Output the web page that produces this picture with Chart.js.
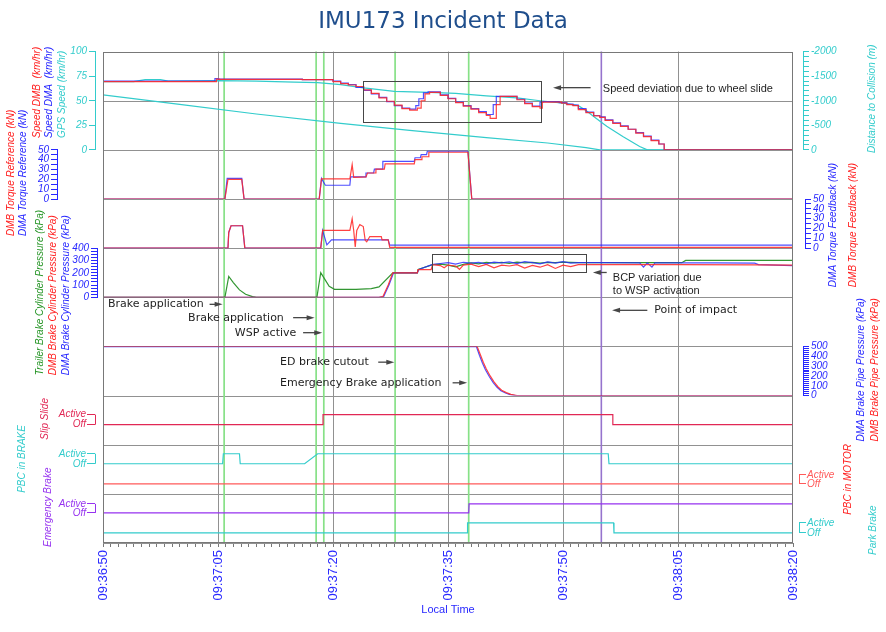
<!DOCTYPE html>
<html>
<head>
<meta charset="utf-8">
<script src="https://cdn.jsdelivr.net/npm/chart.js@4.4.1/dist/chart.umd.min.js"></script>
<style>
html,body{margin:0;padding:0;background:#fff;}
#wrap{width:886px;height:632px;}
</style>
</head>
<body>
<div id="wrap"><canvas id="c" width="886" height="632"></canvas></div>
<script>
// ---------------- DATA (time in seconds after 09:36:50) ----------------
const timeTicks = ['09:36:50','09:37:05','09:37:20','09:37:35','09:37:50','09:38:05','09:38:20'];
const tickStep = 15;

// Speed (km/hr)
const speedDmbT = [0,14.8,15.2,26,30,31,32,33,34,35,36,37,38,39,40,41,41.5,42,42.6,43,44,45,46,47,48,49,50,50.5,50.8,51.3,51.8,52.2,54,55,56,57,57.3,57.5,59.8,60.5,61.3,62,63,64,64.8,65.5,66.5,67.5,68.5,69.5,70.5,71.5,72.5,73.2,73.6,90];
const speedDmbV = [69.5,69.5,72,71.8,71.5,69.5,67.5,66,64.5,61,57.5,53,49.5,45.5,42,40.5,42.5,50,57,58.5,58.5,55.5,52,48,44.5,41.5,38,35,32,32,46,54.5,54.5,51,47,44,42.5,48.6,48.6,47.5,46,45,41,38,34.5,33,30,27,24,21,17,13.5,9.5,6,0,0];
const speedDmaT = [0,14.6,15.0,26,30,31,32,33,34,35,36,37,38,39,40,40.8,41.2,41.8,42.4,44,45,46,47,48,49,50,50.5,50.9,51.3,51.8,54,55,56,57,57.4,59.5,60.5,61.3,62,63,64,64.8,65.5,66.5,67.5,68.5,69.5,70.5,71.5,72.5,73.2,73.5,90];
const speedDmaV = [70,70,72.5,72,71.5,70,68,66.5,63.5,60.5,57,53.5,49,45,42.5,41.5,45,52,58,59,56,52.5,48.5,45,42,39,36,36,46,54.5,54.5,51.5,47.5,44.5,48.5,49,48,46.5,45.5,42,38.5,35,33.5,30.5,27.5,24.5,21,17.5,14,10,6,0,0];
const gpsT = [0,4,5.5,7.5,8.5,15,20,25,28,31,34,38,42.6,46,50,54,57,60,62,63,64,65.7,67.8,70,71,90];
const gpsV = [69.5,69.5,71.5,71.5,70,70.5,70,69,68.5,66.3,63,59.5,58.5,57.5,55,53,50,47.5,45,40,34,24,13.6,3.4,0,0];
// Distance to collision (m)
const distT = [0,10,20,31,40,50,58,63,64.8,90];
const distV = [-1120,-925,-730,-540,-395,-250,-140,-45,0,0];
// Torque reference (kN)
const tqRefDmbT = [0,15.9,16.3,18.1,18.4,28.2,28.5,32.2,32.5,32.7,34.3,34.5,35.5,35.6,36.7,36.8,40.6,40.7,41.5,41.6,42.4,42.5,47.6,48.1,90];
const tqRefDmbV = [0,0,20,20,0,0,20.5,20.5,35,22,22.5,26.5,26.5,30.5,30.5,35.7,35.7,40,40,43,43,47.6,47.6,0,0];
const tqRefDmaT = [0,15.9,16.2,18.1,18.4,28.2,28.5,29.0,32.2,32.3,34.2,34.3,35.3,35.4,36.4,36.5,40.6,40.7,41.4,41.5,42.2,42.3,47.6,48.1,90];
const tqRefDmaV = [0,0,21,21,0,0,21,14,14,22.5,22.5,26.5,26.5,30.5,30.5,38.4,38.4,42,42,45.2,45.2,48.6,48.6,0,0];
// Torque feedback (kN)
const tqFbDmbT = [0,16.3,16.4,16.7,18.2,18.5,28.4,28.65,32.2,32.5,32.7,32.9,33.1,33.5,33.95,34.2,34.4,34.8,36.3,36.4,37.2,37.4,90];
const tqFbDmbV = [0,0,16,22.8,22.8,0,0,18,18,29.9,18,1.3,18,24,22,8,6.4,11.8,11.8,8.5,8.5,0.8,0.8];
const tqFbDmaT = [0,16.3,16.4,16.7,18.2,18.5,28.4,28.65,29.2,29.8,37.2,37.4,90];
const tqFbDmaV = [0,0,16,22.8,22.8,0,0,18,3.4,8.5,8.5,3,3];
// Brake cylinder pressure (kPa)
const bcpDmbT = [0,36,36.5,37.2,37.8,41,41.1,42.8,43,44,44.5,45,46,46.5,47,48,49,50,51,52,53,54,55,56,57,58,59,60,61,62,70,75,85,90];
const bcpDmbV = [0,0,5,100,199,199,226,226,266,258,240,262,255,228,262,270,250,268,240,262,255,265,238,260,245,265,235,262,250,266,266,266,264,262];
const bcpDmaT = [0,36,36.6,37.3,37.9,41,41.2,42.9,44,45,46,47,48,49,50,51,52,53,54,55,56,57,58,59,60,61,62,65,70,70.5,71,71.6,72,75,80,85,85.5,90];
const bcpDmaV = [0,0,5,100,199,199,226,266,275,282,270,285,278,285,272,286,280,288,275,290,282,272,288,279,290,278,282,282,280,245,280,245,280,280,280,278,266,258];
const bcpTrT = [0,15.9,16.4,17,17.8,18.6,19.5,20,27.9,28.4,28.9,29.5,30.2,33,35,36,37.8,41,41.1,43,44,45,46,47,48,49,50,51,52,53,54,55,56,57,58,59,60,62,70,75.5,76,90];
const bcpTrV = [0,0,170,120,60,25,5,0,0,200,150,90,65,65,70,85,199,199,226,266,270,262,248,268,280,272,285,278,284,276,286,280,285,278,284,283,286,282,282,282,300,300];
// Brake pipe pressure (kPa)
const bppDmbT = [0,48.8,49.2,49.6,50.0,50.5,51.0,51.5,52.0,52.6,53.2,54.0,90];
const bppDmbV = [500,500,420,340,270,200,140,90,55,30,12,0,0];
const bppDmaT = [0,48.7,49.1,49.5,49.9,50.4,50.9,51.4,51.9,52.5,53.1,53.8,90];
const bppDmaV = [498,498,410,330,260,192,132,84,50,26,10,0,0];
// Digital signals (0 = Off, 1 = Active)
const slipT = [0,28.7,28.7,66.5,66.5,90];
const slipV = [0,0,1,1,0,0];
const pbcBrakeT = [0,15.6,15.7,17.8,17.9,26.3,28.0,65.9,66.0,90];
const pbcBrakeV = [0,0,1,1,0,0,1,1,0,0];
const pbcMotorT = [0,90];
const pbcMotorV = [0,0];
const emergT = [0,47.7,47.75,90];
const emergV = [0,0,1,1];
const parkT = [0,47.5,47.55,66.6,66.65,90];
const parkV = [0,0,1,1,0,0];
// Event markers
const brakeEvents = [15.8,27.8,28.8,38.1,47.7];
const impactEvents = [65.0];

// ---------------- STYLE ----------------
const RED = 'rgba(255,40,40,0.88)';
const BLUE = 'rgba(40,40,255,0.82)';
const CYAN = 'rgb(51,204,204)';
const GREEN = 'rgb(50,150,50)';
const CRIMSON = 'rgb(225,40,85)';
const PURPLE = 'rgb(150,50,240)';
const MOTOR_RED = 'rgb(255,90,90)';
const T_RED = 'rgb(255,30,30)';
const T_BLUE = 'rgb(40,40,255)';
const T_GREEN = 'rgb(40,150,40)';
const GRID = 'rgb(145,145,145)';
const EVT_GREEN = 'rgb(135,225,135)';
const EVT_PURPLE = 'rgb(150,115,205)';
const ANN = 'rgb(70,70,70)';
const LEFT_W = 103, RIGHT_W = 93, X_H = 89;
const TICK_FONT = {family: 'Liberation Sans', size: 10, style: 'italic'};
const TITLE_FONT = 'italic 10px "Liberation Sans"';

function pts(t, v) { return t.map((x, i) => ({x: x, y: v[i]})); }

const seriesDefs = [
  {t: speedDmbT, v: speedDmbV, axis: 'ySpeed', color: RED, stepped: 'after'},
  {t: speedDmaT, v: speedDmaV, axis: 'ySpeed', color: BLUE, stepped: 'after'},
  {t: gpsT, v: gpsV, axis: 'ySpeed', color: CYAN},
  {t: distT, v: distV, axis: 'yDist', color: CYAN},
  {t: tqRefDmbT, v: tqRefDmbV, axis: 'yTqRef', color: RED},
  {t: tqRefDmaT, v: tqRefDmaV, axis: 'yTqRef', color: BLUE},
  {t: tqFbDmbT, v: tqFbDmbV, axis: 'yTqFb', color: RED},
  {t: tqFbDmaT, v: tqFbDmaV, axis: 'yTqFb', color: BLUE},
  {t: bcpDmbT, v: bcpDmbV, axis: 'yBcp', color: RED},
  {t: bcpDmaT, v: bcpDmaV, axis: 'yBcp', color: BLUE},
  {t: bcpTrT, v: bcpTrV, axis: 'yBcp', color: GREEN},
  {t: bppDmbT, v: bppDmbV, axis: 'yBpp', color: RED},
  {t: bppDmaT, v: bppDmaV, axis: 'yBpp', color: BLUE},
  {t: slipT, v: slipV, axis: 'ySlip', color: CRIMSON},
  {t: pbcBrakeT, v: pbcBrakeV, axis: 'yPbcB', color: CYAN},
  {t: pbcMotorT, v: pbcMotorV, axis: 'yPbcM', color: MOTOR_RED},
  {t: emergT, v: emergV, axis: 'yEmerg', color: PURPLE},
  {t: parkT, v: parkV, axis: 'yPark', color: CYAN}
];

// ---------------- AXES ----------------
const leftOrder = ['ySpeed','yTqRef','yF1','yBcp','yF2','yF3','ySlip','yPbcB','yEmerg'];
const rightOrder = ['yDist','yR1','yTqFb','yR2','yR3','yBpp','yR4','yPbcM','yPark'];
const axisSpec = {
  ySpeed: {kind: 'num', w: 2, min: 0, max: 100, step: 25, major: 25, color: CYAN, dx: -8},
  yTqRef: {kind: 'num', w: 1, min: 0, max: 50, step: 5, major: 10, color: T_BLUE, dx: -46},
  yF1: {kind: 'fill'},
  yBcp: {kind: 'num', w: 1, min: 0, max: 400, step: 25, major: 100, color: T_BLUE, dx: -6},
  yF2: {kind: 'fill'},
  yF3: {kind: 'fill'},
  ySlip: {kind: 'dig', min: -2, max: 2.9, color: CRIMSON, dx: -8},
  yPbcB: {kind: 'dig', min: -3, max: 1.9, color: CYAN, dx: -8},
  yEmerg: {kind: 'dig', min: -3.33, max: 2.11, color: PURPLE, dx: -8},
  yDist: {kind: 'num', w: 2, min: -2000, max: 0, step: 100, major: 500, reverse: true, color: CYAN, dx: 10},
  yR1: {kind: 'fill'},
  yTqFb: {kind: 'num', w: 1, min: 0, max: 50, step: 5, major: 10, color: T_BLUE, dx: 12},
  yR2: {kind: 'fill'},
  yR3: {kind: 'fill'},
  yBpp: {kind: 'num', w: 1, min: 0, max: 500, step: 20, major: 100, color: T_BLUE, dx: 10},
  yR4: {kind: 'fill'},
  yPbcM: {kind: 'dig', min: -1.11, max: 4.33, color: MOTOR_RED, dx: 6},
  yPark: {kind: 'dig', min: -1, max: 3.9, color: CYAN, dx: 6}
};

function shiftDraw(s, dx) {
  if (s._shiftInstalled || !dx) return;
  s._shiftInstalled = true;
  s.draw = function (area) {
    const c = this.ctx;
    c.save();
    c.translate(dx, 0);
    Object.getPrototypeOf(this).draw.call(this, area);
    c.restore();
  };
}

function buildAxis(id, side, weight) {
  const sp = axisSpec[id];
  const base = {
    type: 'linear',
    position: side === 'L' ? 'left' : 'right',
    stack: side,
    stackWeight: sp.w || 1,
    weight: weight,
    afterFit: (s) => { s.width = side === 'L' ? LEFT_W : RIGHT_W; shiftDraw(s, sp.dx); }
  };
  if (sp.kind === 'fill') {
    return Object.assign(base, {display: false, min: 0, max: 100});
  }
  const tickLen = sp.kind === 'dig' ? (side === 'L' ? 8 : 7) : 6;
  Object.assign(base, {
    min: sp.min, max: sp.max, reverse: !!sp.reverse,
    grid: {display: true, drawOnChartArea: false, drawTicks: true, tickLength: tickLen, tickColor: sp.color, tickWidth: 1},
    border: {display: sp.kind !== 'dig', color: sp.color, width: 1}
  });
  if (sp.kind === 'dig') {
    base.afterBuildTicks = (s) => { s.ticks = [{value: 0}, {value: 1}]; };
    base.ticks = {autoSkip: false, color: sp.color, font: TICK_FONT, padding: 1,
      callback: (v) => (v === 1 ? 'Active' : 'Off')};
  } else {
    base.ticks = {stepSize: sp.step, autoSkip: false, color: sp.color, font: TICK_FONT, padding: 2,
      callback: (v) => (Math.abs(v % sp.major) < 1e-9 ? String(v) : '')};
  }
  return base;
}

const scales = {
  x: {
    type: 'linear', position: 'bottom', min: 0, max: 90,
    afterFit: (s) => { s.height = X_H; },
    ticks: {stepSize: 1, autoSkip: false, maxRotation: 90, minRotation: 90, color: T_BLUE,
      font: {family: 'Liberation Sans', size: 13}, padding: 3,
      callback: (v) => (v % tickStep === 0 ? timeTicks[v / tickStep] : '')},
    grid: {
      color: (c) => (c.tick && c.tick.value % tickStep === 0 && c.tick.value > 0 && c.tick.value < 90 ? GRID : 'rgba(0,0,0,0)'),
      tickColor: 'rgb(120,120,120)', tickLength: 4, lineWidth: 1
    },
    border: {display: false},
    title: {display: true, text: 'Local Time', color: T_BLUE, font: {family: 'Liberation Sans', size: 11}, padding: {top: 0, bottom: 15}}
  }
};
leftOrder.forEach((id, i) => { scales[id] = buildAxis(id, 'L', leftOrder.length - i); });
rightOrder.forEach((id, i) => { scales[id] = buildAxis(id, 'R', i + 1); });

// ---------------- ANNOTATIONS / TITLES ----------------
const axisTitles = [
  {axis: 'ySpeed', x: 37, off: 12, text: 'Speed DMB  (km/hr)', color: T_RED},
  {axis: 'ySpeed', x: 49, off: 12, text: 'Speed DMA  (km/hr)', color: T_BLUE},
  {axis: 'ySpeed', x: 62, off: 12, text: 'GPS Speed (km/hr)', color: CYAN},
  {axis: 'yTqRef', x: 11, off: -37, text: 'DMB Torque Reference (kN)', color: T_RED},
  {axis: 'yTqRef', x: 23, off: -37, text: 'DMA Torque Reference (kN)', color: T_BLUE},
  {axis: 'yBcp', x: 40, off: -78, text: 'Trailer Brake Cylinder Pressure (kPa)', color: T_GREEN},
  {axis: 'yBcp', x: 53, off: -78, text: 'DMB Brake Cylinder Pressure (kPa)', color: T_RED},
  {axis: 'yBcp', x: 66, off: -78, text: 'DMA Brake Cylinder Pressure (kPa)', color: T_BLUE},
  {axis: 'ySlip', x: 45, off: 5, text: 'Slip Slide', color: CRIMSON},
  {axis: 'yPbcB', x: 22, off: 1, text: 'PBC in BRAKE', color: CYAN},
  {axis: 'yEmerg', x: 48, off: -4, text: 'Emergency Brake', color: PURPLE},
  {axis: 'yDist', x: 872, off: -3, text: 'Distance to Collision (m)', color: CYAN},
  {axis: 'yTqFb', x: 833, off: -39, text: 'DMA Torque Feedback (kN)', color: T_BLUE},
  {axis: 'yTqFb', x: 853, off: -39, text: 'DMB Torque Feedback (kN)', color: T_RED},
  {axis: 'yBpp', x: 861, off: -46, text: 'DMA Brake Pipe Pressure (kPa)', color: T_BLUE},
  {axis: 'yBpp', x: 875, off: -46, text: 'DMB Brake Pipe Pressure (kPa)', color: T_RED},
  {axis: 'yPbcM', x: 848, off: -21, text: 'PBC in MOTOR', color: T_RED},
  {axis: 'yPark', x: 873, off: -12, text: 'Park Brake', color: CYAN}
];
const annBoxes = [
  {axis: 'ySpeed', t0: 33.9, t1: 57.1, v0: 28.6, v1: 70.4},
  {axis: 'yBcp', t0: 42.9, t1: 63.0, v0: 202, v1: 355}
];
const annArrows = [
  {axis: 'ySpeed', v: 63.3, from: 63.6, to: 58.7},
  {axis: 'yBcp', v: 202, from: 65.7, to: 63.9},
  {axis: 'yF2', v: 73.5, from: 71.0, to: 66.4},
  {axis: 'yF2', v: 85.7, from: 13.9, to: 15.6},
  {axis: 'yF2', v: 58.6, from: 24.8, to: 27.6},
  {axis: 'yF2', v: 28, from: 26.1, to: 28.6},
  {axis: 'yF3', v: 68, from: 35.9, to: 38.0},
  {axis: 'yF3', v: 26, from: 45.6, to: 47.5}
];
const SANS = '11px "Liberation Sans"';
const VERD = '11px "DejaVu Sans"';
const annTexts = [
  {axis: 'ySpeed', v: 62, t: 65.2, text: 'Speed deviation due to wheel slide', font: SANS},
  {axis: 'yBcp', v: 161, t: 66.5, text: 'BCP variation due', font: SANS},
  {axis: 'yBcp', v: 48, t: 66.5, text: 'to WSP activation', font: SANS},
  {axis: 'yF2', v: 73.5, t: 71.9, text: 'Point of impact', font: VERD},
  {axis: 'yF2', v: 85.7, t: 0.65, text: 'Brake application', font: VERD},
  {axis: 'yF2', v: 58.6, t: 11.1, text: 'Brake application', font: VERD},
  {axis: 'yF2', v: 28, t: 17.2, text: 'WSP active', font: VERD},
  {axis: 'yF3', v: 68, t: 23.1, text: 'ED brake cutout', font: VERD},
  {axis: 'yF3', v: 26, t: 23.1, text: 'Emergency Brake application', font: VERD}
];
const digitalAxes = ['ySlip','yPbcB','yEmerg','yPbcM','yPark'];

const overlay = {
  id: 'overlay',
  beforeDraw(chart) {
    const {ctx, width, height} = chart;
    ctx.save(); ctx.fillStyle = '#fff'; ctx.fillRect(0, 0, width, height); ctx.restore();
  },
  beforeDatasetsDraw(chart) {
    const {ctx, chartArea: a, scales: S} = chart;
    ctx.save();
    ctx.strokeStyle = GRID; ctx.lineWidth = 1;
    const ys = [];
    leftOrder.forEach((id) => { ys.push(S[id].top, S[id].bottom); });
    ys.push(S.ySpeed.getPixelForValue(50));
    ctx.beginPath();
    ys.forEach((y) => { const yy = Math.round(y) + 0.5; ctx.moveTo(a.left, yy); ctx.lineTo(a.right, yy); });
    ctx.stroke();
    const vline = (t, color, w) => {
      const x = S.x.getPixelForValue(t);
      ctx.strokeStyle = color; ctx.lineWidth = w;
      ctx.beginPath(); ctx.moveTo(x, a.top); ctx.lineTo(x, a.bottom); ctx.stroke();
    };
    brakeEvents.forEach((t) => vline(t, EVT_GREEN, 1.7));
    impactEvents.forEach((t) => vline(t, EVT_PURPLE, 1.6));
    ctx.restore();
  },
  afterDatasetsDraw(chart) {
    const {ctx, scales: S} = chart;
    const X = (t) => S.x.getPixelForValue(t);
    ctx.save();
    ctx.strokeStyle = ANN; ctx.fillStyle = ANN; ctx.lineWidth = 1;
    annBoxes.forEach((b) => {
      const x0 = Math.round(X(b.t0)) + 0.5, x1 = Math.round(X(b.t1)) + 0.5;
      const y0 = Math.round(S[b.axis].getPixelForValue(b.v0)) + 0.5, y1 = Math.round(S[b.axis].getPixelForValue(b.v1)) + 0.5;
      ctx.strokeRect(Math.min(x0, x1), Math.min(y0, y1), Math.abs(x1 - x0), Math.abs(y1 - y0));
    });
    ctx.lineWidth = 1.3;
    annArrows.forEach((r) => {
      const y = S[r.axis].getPixelForValue(r.v);
      const xa = X(r.from), xb = X(r.to);
      const dir = xb > xa ? 1 : -1;
      ctx.beginPath(); ctx.moveTo(xa, y); ctx.lineTo(xb - dir * 6, y); ctx.stroke();
      ctx.beginPath(); ctx.moveTo(xb, y); ctx.lineTo(xb - dir * 8, y - 2.5); ctx.lineTo(xb - dir * 8, y + 2.5); ctx.closePath(); ctx.fill();
    });
    ctx.fillStyle = 'rgb(30,30,30)';
    ctx.textAlign = 'left'; ctx.textBaseline = 'middle';
    annTexts.forEach((tx) => {
      ctx.font = tx.font;
      ctx.fillText(tx.text, X(tx.t), S[tx.axis].getPixelForValue(tx.v));
    });
    ctx.restore();
  },
  afterDraw(chart) {
    const {ctx, chartArea: a, scales: S} = chart;
    ctx.save();
    ctx.font = TITLE_FONT; ctx.textAlign = 'left'; ctx.textBaseline = 'middle';
    axisTitles.forEach((t) => {
      const y = S[t.axis].bottom - t.off;
      ctx.save(); ctx.translate(t.x, y); ctx.rotate(-Math.PI / 2);
      ctx.fillStyle = t.color; ctx.fillText(t.text, 0, 0); ctx.restore();
    });
    ctx.lineWidth = 1;
    digitalAxes.forEach((id) => {
      const s = S[id], sp = axisSpec[id];
      const x = Math.round((s.position === 'left' ? s.right : s.left) + sp.dx) + 0.5;
      ctx.strokeStyle = sp.color;
      ctx.beginPath(); ctx.moveTo(x, s.getPixelForValue(1)); ctx.lineTo(x, s.getPixelForValue(0)); ctx.stroke();
    });
    ctx.strokeStyle = 'rgb(120,120,120)'; ctx.lineWidth = 1;
    ctx.strokeRect(Math.round(a.left) + 0.5, Math.round(a.top) + 0.5, Math.round(a.width) - 1, Math.round(a.height) - 1);
    ctx.restore();
  }
};

const datasets = seriesDefs.map((d) => ({
  data: pts(d.t, d.v),
  xAxisID: 'x', yAxisID: d.axis,
  borderColor: d.color, borderWidth: 1.2,
  pointRadius: 0, fill: false, tension: 0,
  stepped: d.stepped || false
}));

new Chart(document.getElementById('c'), {
  type: 'line',
  data: {datasets: datasets},
  options: {
    responsive: false, animation: false, devicePixelRatio: 1, events: [],
    layout: {padding: 0},
    plugins: {
      legend: {display: false}, tooltip: {enabled: false},
      title: {display: true, text: 'IMU173 Incident Data', color: 'rgb(31,78,140)',
        font: {family: 'DejaVu Sans', size: 23, weight: 'normal'}, padding: {top: 8, bottom: 16}}
    },
    scales: scales
  },
  plugins: [overlay]
});
</script>
</body>
</html>
